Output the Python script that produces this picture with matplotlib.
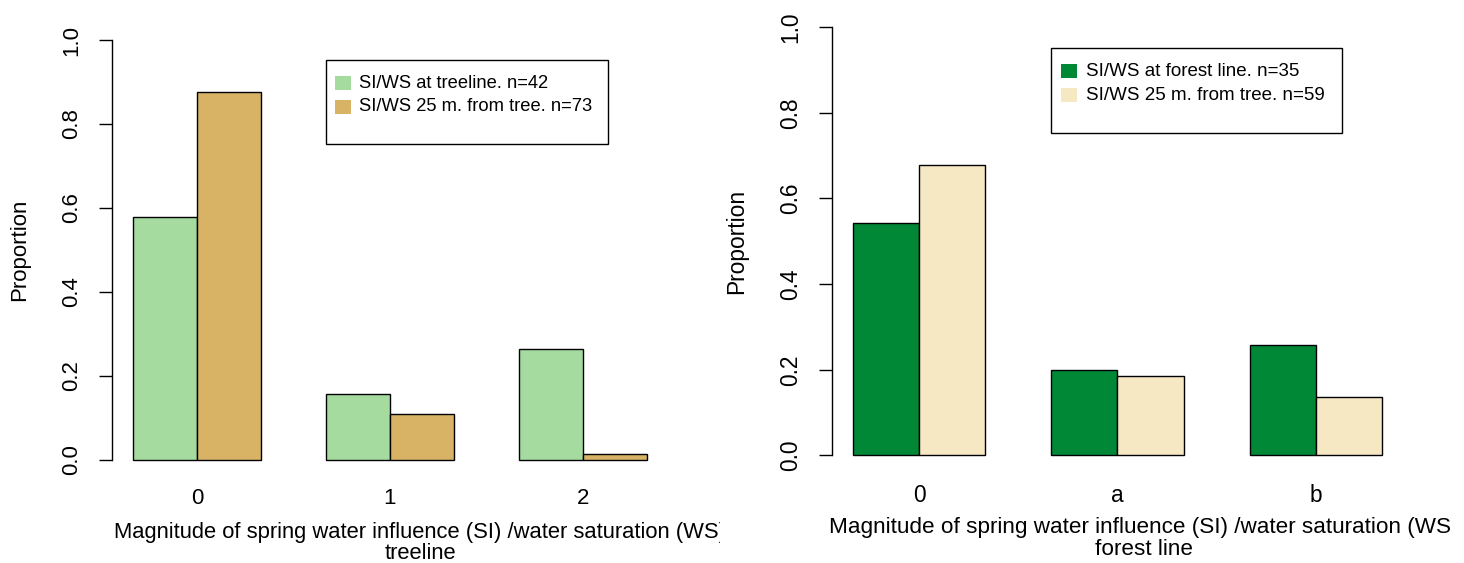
import numpy as np
import matplotlib.pyplot as plt
from matplotlib.patches import Rectangle
from matplotlib.transforms import Bbox, TransformedBbox

plt.rcParams['font.family'] = ['Liberation Sans', 'DejaVu Sans']

W, H = 1464, 563

# proportion of plots in each SI/WS magnitude class
tree_classes = ['0', '1', '2']
tree_at_line = [0.579, 0.156, 0.265]
tree_25m = [0.877, 0.110, 0.014]
tree_names = ['SI/WS at treeline. n=42', 'SI/WS 25 m. from tree. n=73']
tree_colors = ['#A6DBA0', '#D8B365']

forest_classes = ['0', 'a', 'b']
forest_at_line = [0.543, 0.200, 0.257]
forest_25m = [0.678, 0.186, 0.136]
forest_names = ['SI/WS at forest line. n=35', 'SI/WS 25 m. from tree. n=59']
forest_colors = ['#008837', '#F6E8C3']

yticks = [0.0, 0.2, 0.4, 0.6, 0.8, 1.0]
xlab = 'Magnitude of spring water influence (SI) /water saturation (WS)'

fig = plt.figure(figsize=(W / 100, H / 100), dpi=100)


def px(x, y):
    return x / W, 1 - y / H


def panel(box, classes, a, b, names, colors, sub, sc, clip, lab_cx, base_y):
    # box = plot region in pixels: left, right, top, bottom
    l, r, top, bot = box
    ax = fig.add_axes([l / W, 1 - bot / H, (r - l) / W, (bot - top) / H])
    pos = np.arange(len(classes)) * 3 + 2
    ax.bar(pos - 0.5, a, width=1, color=colors[0], edgecolor='black', linewidth=1)
    ax.bar(pos + 0.5, b, width=1, color=colors[1], edgecolor='black', linewidth=1)
    ax.set_xlim(0.68, 9.32)
    ax.set_ylim(-0.04, 1.04)
    for k in ['top', 'right', 'bottom']:
        ax.spines[k].set_visible(False)
    ax.spines['left'].set_bounds(0, 1)
    ax.spines['left'].set_linewidth(1)

    ax.set_yticks(yticks)
    ax.set_yticklabels([f'{v:.1f}' for v in yticks], rotation=90, ha='center', va='center')
    ax.tick_params(axis='y', length=9.4 * sc, width=1, pad=19.6 * sc, labelsize=16 * sc)
    ax.set_xticks(pos, classes)
    ax.tick_params(axis='x', length=0, pad=8 * sc, labelsize=16 * sc)

    # legend box with an empty row at the bottom
    ax.add_patch(Rectangle((4.0, 0.752), 4.39, 0.2, fill=False, ec='black', lw=1))
    for row_y, name, c in zip([0.897, 0.841], names, colors):
        ax.add_patch(Rectangle((4.15, row_y - 0.0165), 0.24, 0.033, fc=c, ec='none'))
        ax.text(4.52, row_y, name, va='center', fontsize=13.2 * sc)

    fig.text(*px(l - 93 * sc, (top + bot) / 2), 'Proportion', rotation=90,
             ha='center', va='center', fontsize=16 * sc)

    cb = TransformedBbox(Bbox.from_extents(clip[0] / W, 0, clip[1] / W, 1), fig.transFigure)
    for txt, y in [(xlab, base_y), (sub, base_y + 21 * sc)]:
        t = fig.text(*px(lab_cx, y), txt, ha='center', va='baseline', fontsize=15.8 * sc)
        t.set_clip_box(cb)
        t.set_clip_on(True)
    return ax


panel((112.4, 667.6, 23.2, 476.8), tree_classes, tree_at_line, tree_25m,
      tree_names, tree_colors, 'treeline', 1.0, (0, 720), 420, 538)
panel((831.8, 1403.0, 9.9, 472.6), forest_classes, forest_at_line, forest_25m,
      forest_names, forest_colors, 'forest line', 1.025, (732, 1450), 1144, 533)

fig.savefig('out.png', dpi=100)
